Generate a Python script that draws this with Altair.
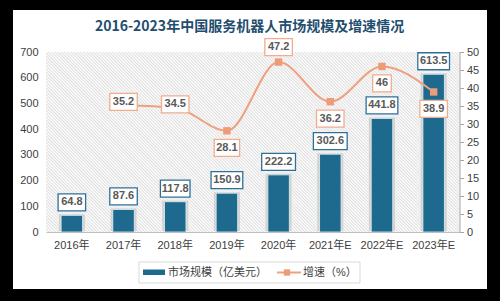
import altair as alt
import pandas as pd

# ---------------- data ----------------
years = ["2016年", "2017年", "2018年", "2019年", "2020年", "2021年E", "2022年E", "2023年E"]
market = [64.8, 87.6, 117.8, 150.9, 222.2, 302.6, 441.8, 613.5]
rate_years = ["2017年", "2018年", "2019年", "2020年", "2021年E", "2022年E", "2023年E"]
rate = [35.2, 34.5, 28.1, 47.2, 36.2, 46, 38.9]
rate_label_side = ["center", "center", "below", "above", "below", "below", "below"]

title_text = "2016-2023年中国服务机器人市场规模及增速情况"
legend_bar = "市场规模（亿美元）"
legend_line = "增速（%）"

# ---------------- style ----------------
W, H = 413.5, 180
BAR = "#1D6A8E"
LINE = "#F0A07E"
LINE_BOX = "#F2AC8E"
BAR_BOX = "#2E7198"
TXT = "#404040"
LBL = "#595959"
FONT = "Liberation Sans, Noto Sans CJK SC"

bar_df = pd.DataFrame({"year": years, "value": market,
                       "label": [f"{v:g}" for v in market]})
rate_df = pd.DataFrame({"year": rate_years, "rate": rate,
                        "label": [f"{v:g}" for v in rate], "side": rate_label_side})
one = pd.DataFrame({"d": [0]})


def text_w(s):
    w = 6
    for ch in s:
        w += 2.6 if ch == "." else (4.2 if ch == "1" else 6.3)
    return w


def box_path(s, h=17):
    a = text_w(s) / 20
    b = h / 20
    return f"M-{a:.3f},-{b:.3f}H{a:.3f}V{b:.3f}H-{a:.3f}Z"


x_enc = alt.X("year:N", sort=years,
              scale=alt.Scale(domain=years, paddingInner=0, paddingOuter=0),
              axis=alt.Axis(title=None, labelAngle=0, ticks=False, domainColor="#bfbfbf",
                            domainWidth=1.2, labelFontSize=11, labelColor=TXT, labelFont=FONT,
                            labelPadding=7, zindex=1))

y_bar = alt.Y("value:Q", scale=alt.Scale(domain=[0, 700], nice=False),
              axis=alt.Axis(orient="left", title=None, values=list(range(0, 701, 100)),
                            domain=False, ticks=False, grid=False, labelPadding=8,
                            labelFontSize=11, labelColor=TXT, labelFont=FONT, zindex=1))
y_rate = alt.Y("rate:Q", scale=alt.Scale(domain=[0, 50], nice=False),
               axis=alt.Axis(orient="right", title=None, values=list(range(0, 51, 5)),
                             domain=True, domainColor="#a6a6a6", ticks=True, tickColor="#a6a6a6",
                             tickSize=4, grid=False, labelPadding=3, labelFontSize=11,
                             labelColor=TXT, labelFont=FONT, zindex=1))

# hatch-like background via a striped gradient (lines at 45 degrees)
r = H / W
s = (1 + r) / (1 + r * r)
period = 3.2
stops = []
n = int((W + H) / period) + 1
for i in range(n):
    o1 = i * period / (W + H)
    o2 = (i + 0.5) * period / (W + H)
    if o1 <= 1:
        stops.append(alt.GradientStop(color="#e0e0e0", offset=o1))
    if o2 <= 1:
        stops.append(alt.GradientStop(color="#ffffff", offset=o2))
hatch = alt.LinearGradient(gradient="linear", stops=stops, x1=0, y1=1, x2=s, y2=1 - r * s)

panel = alt.Chart(one).mark_rect(color="white").encode(
    x=alt.value(-33), x2=alt.value(441), y=alt.value(-42), y2=alt.value(237))
plot_bg = alt.Chart(one).mark_rect(color=hatch).encode(
    x=alt.value(0), x2=alt.value(W), y=alt.value(0), y2=alt.value(H))

# bars
shadow = alt.Chart(bar_df).mark_bar(size=26, color="#9a9a9a", opacity=0.35, yOffset=-1).encode(
    x=x_enc, y=y_bar)
bars = alt.Chart(bar_df).mark_bar(size=21.5, color=BAR, stroke="#e9f1f5", strokeWidth=0.8).encode(
    x=x_enc, y=y_bar)
bar_box = alt.Chart(bar_df).mark_point(filled=True, fill="white", stroke=BAR_BOX, strokeWidth=1.3,
                                       opacity=1, size=400, yOffset=-13).encode(
    x=x_enc, y=y_bar,
    shape=alt.Shape("label:N", scale=alt.Scale(domain=list(bar_df["label"]),
                                               range=[box_path(t) for t in bar_df["label"]]),
                    legend=None))
bar_txt = alt.Chart(bar_df).mark_text(fontSize=11, fontWeight="bold", color=LBL, font=FONT,
                                      baseline="middle", dy=-13).encode(
    x=x_enc, y=y_bar, text="label:N")

# line
line = alt.Chart(rate_df).mark_line(interpolate="monotone", color=LINE, strokeWidth=2).encode(
    x=x_enc, y=y_rate)
pts = alt.Chart(rate_df).mark_point(shape="square", filled=True, color="#EE9B78", size=55,
                                    opacity=1).encode(x=x_enc, y=y_rate)

offsets = {"center": -3.5, "above": -15, "below": 17}
rate_layers = []
for side, off in offsets.items():
    sub = rate_df[rate_df["side"] == side]
    if len(sub) == 0:
        continue
    box = alt.Chart(rate_df).transform_filter(alt.datum.side == side).mark_point(
        filled=True, fill="white", stroke=LINE_BOX, strokeWidth=1.3, opacity=1, size=400,
        yOffset=off).encode(
        x=x_enc, y=y_rate,
        shape=alt.Shape("label:N", scale=alt.Scale(domain=list(rate_df["label"]),
                                                   range=[box_path(t) for t in rate_df["label"]]),
                        legend=None))
    txt = alt.Chart(rate_df).transform_filter(alt.datum.side == side).mark_text(
        fontSize=11, fontWeight="bold", color=LBL, font=FONT, baseline="middle", dy=off).encode(
        x=x_enc, y=y_rate, text="label:N")
    rate_layers += [box, txt]

# legend (drawn)
leg_box = alt.Chart(one).mark_rect(fill="white", stroke="#d9d9d9", strokeWidth=1).encode(
    x=alt.value(93), x2=alt.value(314), y=alt.value(210), y2=alt.value(231))
leg_sw = alt.Chart(one).mark_rect(color=BAR).encode(
    x=alt.value(97), x2=alt.value(119), y=alt.value(217.5), y2=alt.value(223))
leg_t1 = alt.Chart(one).mark_text(text=legend_bar, fontSize=11, color=TXT, font=FONT,
                                  align="left", baseline="middle").encode(
    x=alt.value(122), y=alt.value(220.5))
leg_ln = alt.Chart(one).mark_rule(color=LINE, strokeWidth=2).encode(
    x=alt.value(231), x2=alt.value(255), y=alt.value(220.5))
leg_pt = alt.Chart(one).mark_point(shape="square", filled=True, color="#EE9B78", size=40,
                                   opacity=1).encode(x=alt.value(241), y=alt.value(220.5))
leg_t2 = alt.Chart(one).mark_text(text=legend_line, fontSize=11, color=TXT, font=FONT,
                                  align="left", baseline="middle").encode(
    x=alt.value(257), y=alt.value(220.5))

title = alt.Chart(one).mark_text(text=title_text, fontSize=14, fontWeight="bold", color="#1F4E6E",
                                 font="Noto Sans CJK SC", align="center", baseline="middle").encode(
    x=alt.value(203.5), y=alt.value(-25))

bar_group = alt.layer(panel, plot_bg, shadow, bars, bar_box, bar_txt)
rate_group = alt.layer(line, pts, *rate_layers)
deco = alt.layer(leg_box, leg_sw, leg_t1, leg_ln, leg_pt, leg_t2, title)

chart = alt.layer(bar_group, rate_group, deco).resolve_scale(
    y="independent", shape="independent").properties(
    width=W, height=H,
    autosize=alt.AutoSizeParams(type="none"),
    padding={"left": 46, "top": 52, "right": 40.5, "bottom": 69},
    background="#000000",
).configure_view(strokeWidth=0)

chart.save("out.html", embed_options={"renderer": "svg", "actions": False})
